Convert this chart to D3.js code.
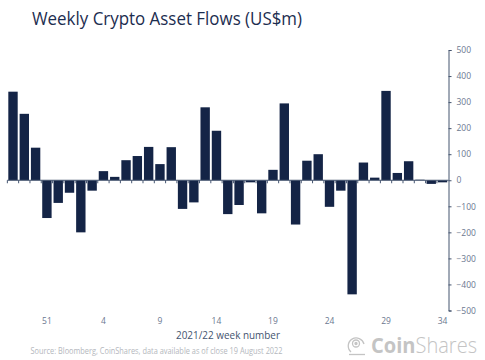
<!DOCTYPE html>
<html><head><meta charset="utf-8">
<script src="https://cdn.jsdelivr.net/npm/d3@7/dist/d3.min.js"></script>
<style>html,body{margin:0;padding:0;background:#fff}svg{display:block}text{font-family:"Open Sans",sans-serif}</style>
</head><body><svg id="c" width="485" height="360"></svg>
<script>
const weeks=[48,49,50,51,52,1,2,3,4,5,6,7,8,9,10,11,12,13,14,15,16,17,18,19,20,21,22,23,24,25,26,27,28,29,30,31,32,33,34];
const flows=[340,255,125,-145,-87,-48,-200,-40,35,13,77,93,128,62,127,-110,-85,280,190,-130,-95,-8,-127,40,295,-170,75,100,-102,-40,-438,68,10,343,28,73,2,-14,-8];
const yTicks=[500,400,300,200,100,0,-100,-200,-300,-400,-500];
const xLabels=[51,4,9,14,19,24,29,34];
const title="Weekly Crypto Asset Flows (US$m)";
const xTitle="2021/22 week number";
const source="Source: Bloomberg, CoinShares, data available as of close 19 August 2022";
const navy="#142446",axisCol="#44546f",labelCol="#6b7890";
const svg=d3.select("#c");
const x=d3.scaleBand().domain(d3.range(weeks.length)).range([7.35,448.2]).paddingInner(0.17).paddingOuter(0.085);
const y=d3.scaleLinear().domain([-500,500]).range([310.5,50]);
svg.append("g").selectAll("rect").data(flows).join("rect")
 .attr("x",(d,i)=>x(i)).attr("width",x.bandwidth())
 .attr("y",d=>y(Math.max(d,0))).attr("height",d=>Math.abs(y(d)-y(0)))
 .attr("fill",navy);
const ay=svg.append("g").attr("transform","translate(448.5,0)").call(d3.axisRight(y).tickValues(yTicks).tickSize(3).tickPadding(5));
ay.select(".domain").attr("stroke",axisCol).attr("stroke-width",1);
ay.selectAll("line").attr("stroke",axisCol);
ay.selectAll("text").attr("fill",labelCol).attr("font-size",8.5).style("font-family",'"Open Sans",sans-serif');
const step=x.step();
const ax=svg.append("g").attr("transform",`translate(0,${y(0)})`);
ax.append("line").attr("x1",7.35).attr("x2",448.5).attr("stroke",axisCol).attr("stroke-width",1);
ax.selectAll(".t").data(weeks).join("line").attr("class","t")
 .attr("x1",(d,i)=>x(i)+x.bandwidth()+(step-x.bandwidth())/2-step).attr("x2",(d,i)=>x(i)+x.bandwidth()+(step-x.bandwidth())/2-step)
 .attr("y1",0).attr("y2",3).attr("stroke",axisCol);
svg.append("g").selectAll("text").data(xLabels).join("text")
 .attr("x",d=>x(weeks.indexOf(d))+x.bandwidth()/2).attr("y",324)
 .attr("text-anchor","middle").attr("fill",labelCol).attr("font-size",8.5).text(d=>d);
svg.append("text").attr("x",32).attr("y",24.5).attr("font-size",18).attr("fill","#1c2d4f").attr("textLength",270).attr("lengthAdjust","spacingAndGlyphs").text(title);
svg.append("text").attr("x",176).attr("y",339).attr("font-size",10.5).attr("fill",axisCol).attr("textLength",104).attr("lengthAdjust","spacingAndGlyphs").text(xTitle);
svg.append("text").attr("x",30.5).attr("y",353.5).attr("font-size",8.5).attr("fill","#b4b7bd").attr("textLength",252).attr("lengthAdjust","spacingAndGlyphs").text(source);
const logo=svg.append("g").attr("fill","none").attr("stroke","#c4c4c4").attr("stroke-width",1.3);
logo.append("path").attr("d","M351 352A8 8 0 1 1 364 344");
logo.append("circle").attr("cx",356).attr("cy",343.5).attr("r",3.5);
logo.append("circle").attr("cx",356).attr("cy",343.5).attr("r",1).attr("fill","#c4c4c4");
logo.append("path").attr("d","M349 354.5h16");
const brand=svg.append("text").attr("x",371).attr("y",353).attr("font-size",22).attr("fill","#c4c4c4").attr("textLength",106).attr("lengthAdjust","spacingAndGlyphs");
brand.append("tspan").attr("font-weight",700).text("Coin");
brand.append("tspan").attr("font-weight",300).text("Shares");
</script></body></html>
